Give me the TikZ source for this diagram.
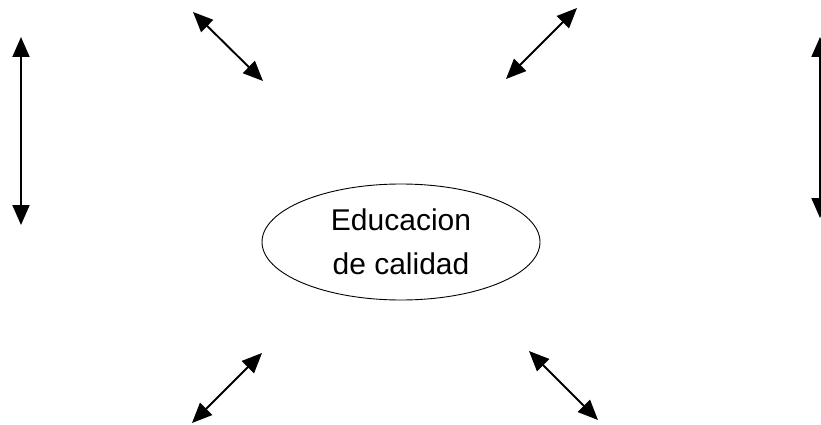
\documentclass[tikz,border=0pt]{standalone}
\usepackage{fontspec}
\setmainfont{Liberation Sans}
\usetikzlibrary{arrows.meta,shapes.geometric}

\begin{document}
\begin{tikzpicture}[x=1pt,y=-1pt,dbl/.style={{Triangle[length=20pt,width=17pt]}-{Triangle[length=20pt,width=17pt]},line width=1.9pt},elip/.style={ellipse,draw,line width=0.9pt,minimum width=278pt,minimum height=116pt,inner sep=0pt,align=center,font=\fontsize{30}{44}\selectfont}]
\useasboundingbox (0,0) rectangle (821,425);
\node[elip] (edu) at (401,242) {Educacion\\de calidad};
\coordinate (ltop) at (21,37);   \coordinate (lbot) at (21,225);
\coordinate (rtop) at (820,37);  \coordinate (rbot) at (820,218);
\coordinate (tla) at (193,12);   \coordinate (tlb) at (263,81);
\coordinate (tra) at (577,8);    \coordinate (trb) at (506,79);
\coordinate (bla) at (262,353);  \coordinate (blb) at (192,423);
\coordinate (bra) at (529,351);  \coordinate (brb) at (598,420);
\foreach \a/\b in %
{ltop/lbot,rtop/rbot,tla/tlb,tra/trb,bla/blb,bra/brb} {
   \draw[dbl] (\a) -- (\b);
}
\end{tikzpicture}
\end{document}
